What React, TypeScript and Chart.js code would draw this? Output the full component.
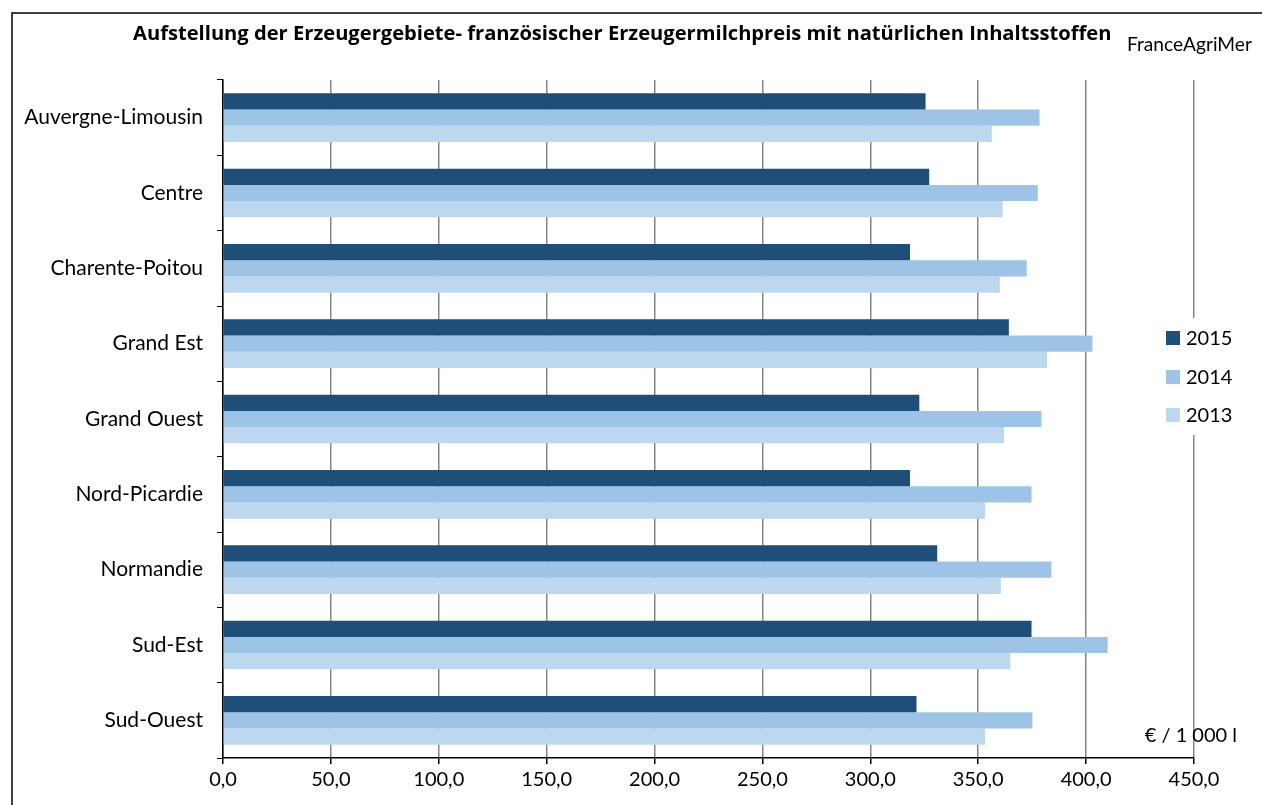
import React, { useEffect, useRef } from "react";
import { Chart, registerables } from "chart.js";

Chart.register(...registerables);

const categories = [
  "Auvergne-Limousin",
  "Centre",
  "Charente-Poitou",
  "Grand Est",
  "Grand Ouest",
  "Nord-Picardie",
  "Normandie",
  "Sud-Est",
  "Sud-Ouest",
];
const values2015 = [325.6, 327.3, 318.4, 364.2, 322.7, 318.4, 331.0, 374.7, 321.4];
const values2014 = [378.4, 377.6, 372.5, 402.9, 379.3, 374.7, 383.9, 410.0, 375.1];
const values2013 = [356.3, 361.3, 360.0, 381.9, 362.0, 353.2, 360.5, 364.9, 353.2];
const seriesLabels = ["2015", "2014", "2013"];
const seriesColors = ["#1F4E79", "#9DC3E6", "#BDD7EE"];
const titleText =
  "Aufstellung der Erzeugergebiete- französischer Erzeugermilchpreis mit natürlichen Inhaltsstoffen";
const sourceText = "FranceAgriMer";
const unitText = "€ / 1 000 l";
const FONT = "Lato, 'Open Sans', sans-serif";
const TITLE_FONT = "'Open Sans', Lato, sans-serif";

function fitFont(ctx: CanvasRenderingContext2D, text: string, weight: string, family: string, target: number) {
  ctx.font = `${weight} 20px ${family}`;
  const w = ctx.measureText(text).width;
  const size = (20 * target) / w;
  ctx.font = `${weight} ${size.toFixed(2)}px ${family}`;
}

const decor = {
  id: "decor",
  beforeDraw(chart: any) {
    const ctx = chart.ctx;
    ctx.save();
    ctx.fillStyle = "#fff";
    ctx.fillRect(0, 0, chart.width, chart.height);
    ctx.strokeStyle = "#000";
    ctx.lineWidth = 1.5;
    ctx.strokeRect(12, 13, chart.width + 20, chart.height + 20);
    ctx.restore();
  },
  afterDatasetsDraw(chart: any) {
    const ctx = chart.ctx;
    ctx.save();
    ctx.fillStyle = "#000";
    ctx.textBaseline = "alphabetic";
    fitFont(ctx, titleText, "bold", TITLE_FONT, 979);
    ctx.textAlign = "left";
    ctx.fillText(titleText, 133, 40);
    fitFont(ctx, sourceText, "normal", FONT, 125);
    ctx.fillText(sourceText, 1127, 51);
    ctx.font = `20px ${FONT}`;
    ctx.textAlign = "right";
    ctx.fillText(unitText, 1237, 742);
    // legend
    ctx.fillStyle = "#fff";
    ctx.fillRect(1160, 318, 90, 117);
    const ys = [338, 377, 415];
    ctx.font = `20px ${FONT}`;
    ctx.textAlign = "left";
    ctx.textBaseline = "middle";
    seriesLabels.forEach((lab, i) => {
      ctx.fillStyle = seriesColors[i];
      ctx.fillRect(1166, ys[i] - 7, 14, 14);
      ctx.fillStyle = "#000";
      ctx.fillText(lab, 1186, ys[i] + 1);
    });
    ctx.restore();
  },
};

export default function App() {
  const ref = useRef<HTMLCanvasElement>(null);
  useEffect(() => {
    document.body.style.margin = "0";
    const chart = new Chart(ref.current as HTMLCanvasElement, {
      type: "bar",
      data: {
        labels: categories,
        datasets: [values2015, values2014, values2013].map((d, i) => ({
          label: seriesLabels[i],
          data: d,
          backgroundColor: seriesColors[i],
          borderWidth: 0,
          categoryPercentage: 0.647,
          barPercentage: 1,
        })),
      },
      options: {
        indexAxis: "y",
        animation: false,
        responsive: false,
        layout: { padding: { top: 80, right: 68, left: 0, bottom: 0 } },
        plugins: { legend: { display: false }, tooltip: { enabled: false }, title: { display: false } },
        scales: {
          x: {
            min: 0,
            max: 450,
            ticks: {
              stepSize: 50,
              color: "#000",
              font: { family: FONT, size: 20 },
              padding: 4,
              callback: (v: any) => Number(v).toFixed(1).replace(".", ","),
            },
            grid: { color: "#868686", lineWidth: 1.5, tickColor: "#000", tickLength: 6 },
            border: { display: true, color: "#000", width: 1.5 },
            afterFit: (s: any) => {
              s.height = 47;
            },
          },
          y: {
            ticks: { color: "#000", font: { family: FONT, size: 21 }, padding: 14 },
            grid: { drawOnChartArea: false, drawTicks: true, tickLength: 6, tickColor: "#000", offset: true },
            border: { display: true, color: "#000", width: 1.5 },
            afterFit: (s: any) => {
              s.width = 223;
            },
          },
        },
      },
      plugins: [decor],
    });
    return () => chart.destroy();
  }, []);
  return (
    <div style={{ position: "fixed", left: 0, top: 0, width: 1262, height: 805 }}>
      <canvas ref={ref} width={1262} height={805} />
    </div>
  );
}
